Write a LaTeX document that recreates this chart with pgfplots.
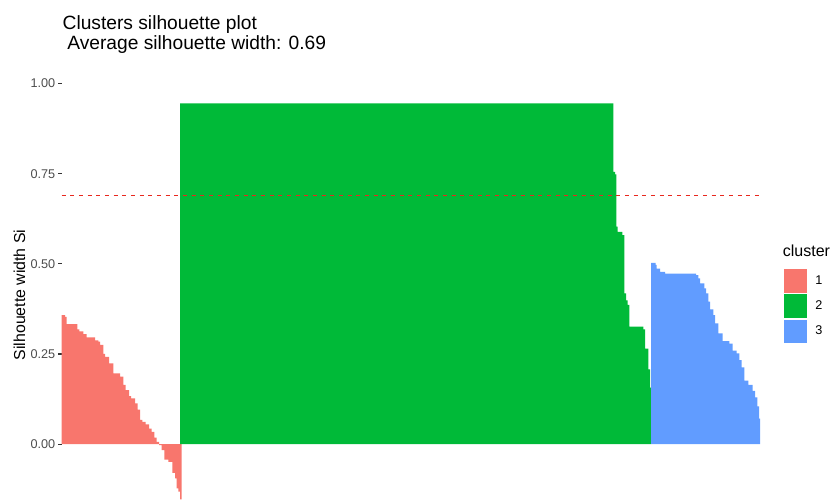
\documentclass[border=0pt]{standalone}
\usepackage{fontspec}
\setmainfont{Liberation Sans}
\usepackage{pgfplots}
\pgfplotsset{compat=1.18}
\definecolor{cl1}{HTML}{F8766D}
\definecolor{cl2}{HTML}{00BA38}
\definecolor{cl3}{HTML}{619CFF}
\definecolor{tickgray}{HTML}{4D4D4D}
\definecolor{tickmark}{HTML}{333333}
\definecolor{hl}{HTML}{E8281E}
\begin{document}
\begin{tikzpicture}
\useasboundingbox (0,0) rectangle (624pt,375pt);
\begin{axis}[
  at={(46.125pt,0pt)}, anchor=south west,
  scale only axis, width=523.875pt, height=315pt,
  xmin=0, xmax=698.5, ymin=-0.155, ymax=1.01,
  axis line style={draw=none},
  xtick=\empty,
  ytick={0,0.25,0.5,0.75,1},
  yticklabels={0.00,0.25,0.50,0.75,1.00},
  ytick pos=left, tick align=outside,
  major tick length=2.55pt,
  tick style={color=tickmark, line width=0.8pt},
  /pgf/number format/assume math mode=true,
  yticklabel style={font=\fontsize{9.5}{11}\selectfont, text=tickgray, inner sep=0pt, anchor=east, xshift=-2pt},
  legend style={at={(1.0334,0.5517)}, anchor=north west, draw=none, fill=none,
    inner sep=0pt, outer sep=0pt, row sep=0pt, column sep=6pt,
    font=\fontsize{9.5}{11}\selectfont,
    nodes={inner sep=0pt}, cells={anchor=west}},
  legend image code/.code={\draw[#1, draw=white, line width=0.6pt] (0pt,-9.15pt) rectangle (17.5pt,9.15pt);},
]
\addplot[const plot, fill=cl1, draw=none] coordinates {
(0,0) (0,0.358) (3.5,0.353) (5.2,0.333) (15.8,0.318) (17.8,0.313) (21.8,0.305) (25.2,0.296) (33.5,0.288) (36.8,0.284) (38.5,0.275) (41.8,0.250) (43.5,0.242) (47.5,0.224) (51.8,0.196) (58.5,0.187) (61.8,0.164) (64.2,0.150) (67.5,0.133) (69.5,0.127) (73.5,0.113) (76.2,0.096) (78.5,0.067) (80.8,0.062) (84.2,0.055) (87.5,0.043) (90.2,0.034) (92.8,0.018) (95.2,0.006) (97.5,-0.003) (100.2,-0.017) (102.8,-0.043) (106.8,-0.049) (110.8,-0.080) (113.5,-0.095) (115.2,-0.123) (116.8,-0.132) (118.5,-0.153) (120,-0.153) (120,0)
};
\addlegendentry{1}
\addplot[const plot, fill=cl2, draw=none] coordinates {
(118.5,0) (118.5,0.945) (551.8,0.755) (553.5,0.748) (554.8,0.603) (556.2,0.589) (560.8,0.580) (562.8,0.418) (564.5,0.399) (566.2,0.386) (567.8,0.326) (581.8,0.318) (583.5,0.265) (586.8,0.207) (588.5,0.157) (589.5,0.157) (589.5,0)
};
\addlegendentry{2}
\addplot[const plot, fill=cl3, draw=none] coordinates {
(589.5,0) (589.5,0.503) (594.2,0.497) (595.2,0.487) (598.5,0.478) (603.5,0.473) (634.5,0.469) (636.8,0.460) (638.5,0.446) (642.8,0.432) (644.5,0.418) (646.8,0.395) (648.5,0.374) (651.8,0.358) (653.5,0.335) (656.8,0.307) (661.2,0.286) (667.8,0.279) (671.2,0.259) (675.2,0.252) (677.8,0.233) (680.2,0.213) (682.8,0.176) (686.8,0.164) (691.2,0.148) (693.5,0.130) (695.8,0.105) (697.5,0.071) (698.5,0.071) (698.5,0)
};
\addlegendentry{3}
\addplot[forget plot, draw=hl, mark=none, line width=0.9pt, dash pattern=on 3pt off 3.5pt] coordinates {(0,0.69) (698.5,0.69)};
\end{axis}
\node[anchor=base west, inner sep=0pt, font=\fontsize{14.4}{17}\selectfont] at (46.8pt,353pt) {Clusters silhouette plot};
\node[anchor=base west, inner sep=0pt, font=\fontsize{14.4}{17}\selectfont] at (50.3pt,338pt) {Average silhouette width: 0.69};
\node[rotate=90, anchor=base, inner sep=0pt, font=\fontsize{11.9}{14}\selectfont] at (18.75pt,153.75pt) {Silhouette width Si};
\node[anchor=base west, inner sep=0pt, font=\fontsize{12}{14}\selectfont] at (587pt,182.25pt) {cluster};
\end{tikzpicture}
\end{document}
